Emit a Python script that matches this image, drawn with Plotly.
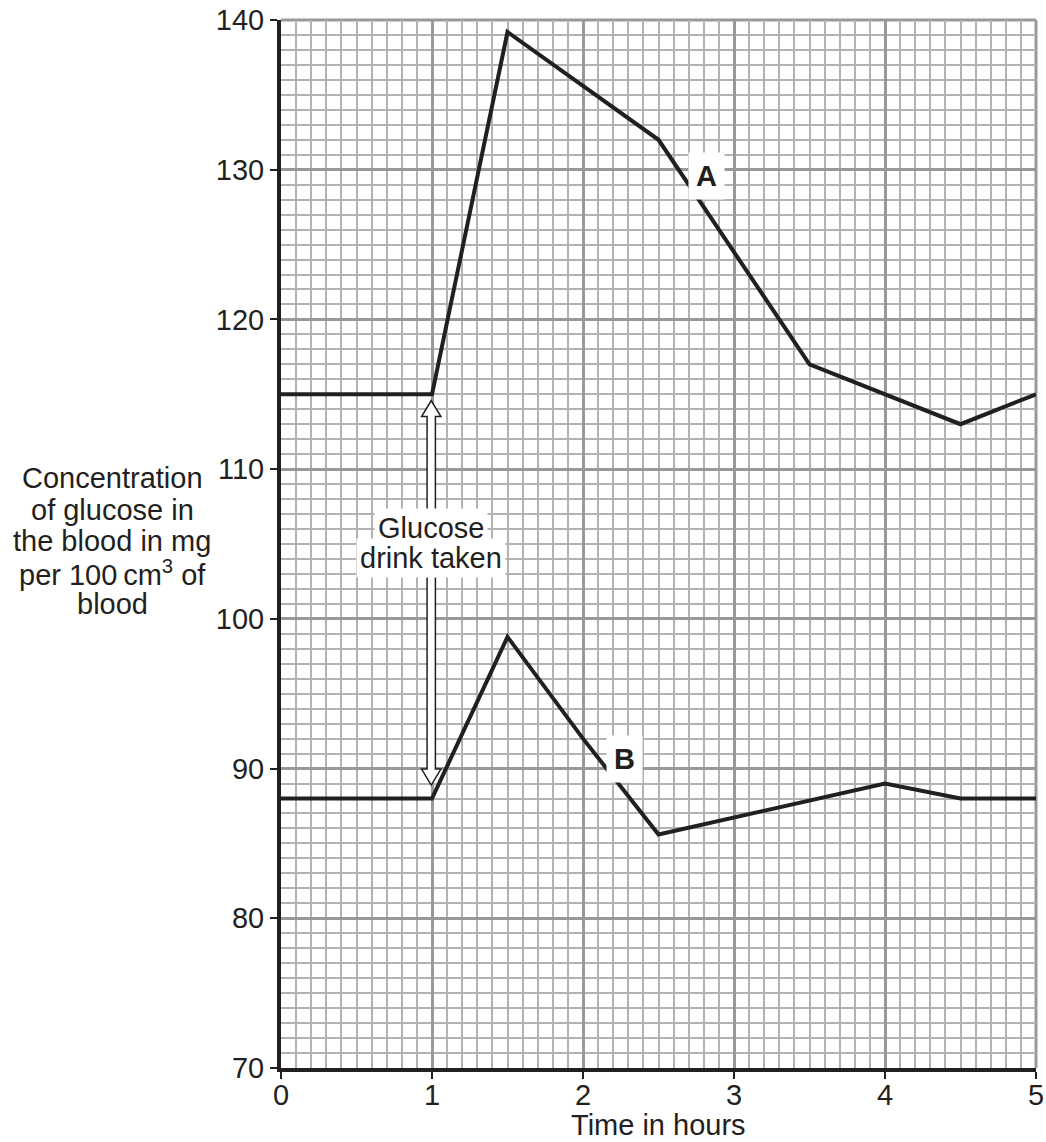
import plotly.graph_objects as go

# ---- data ----
time_a = [0, 1, 1.5, 2.5, 3.5, 4.5, 5]
glucose_a = [115, 115, 139.2, 132, 117, 113, 115]
time_b = [0, 1, 1.5, 2, 2.5, 4, 4.5, 5]
glucose_b = [88, 88, 98.8, 92, 85.6, 89, 88, 88]
x_ticks = [0, 1, 2, 3, 4, 5]
y_ticks = [70, 80, 90, 100, 110, 120, 130, 140]

INK = "#231f20"
FONT = "Liberation Sans"
FS = 29
MAJOR = "#999999"
MINOR = "#b2b2b2"

fig = go.Figure()
for xs, ys in [(time_a, glucose_a), (time_b, glucose_b)]:
    fig.add_trace(go.Scatter(x=xs, y=ys, mode="lines",
                             line=dict(color=INK, width=4), showlegend=False,
                             hoverinfo="skip"))

# hollow double-headed arrow ("Glucose drink taken")
ax_c, a_top, a_bot = 0.995, 114.58, 88.9
hw, sw, hl = 0.064, 0.0275, 1.07
p = [(ax_c, a_top), (ax_c + hw, a_top - hl), (ax_c + sw, a_top - hl),
     (ax_c + sw, a_bot + hl), (ax_c + hw, a_bot + hl), (ax_c, a_bot),
     (ax_c - hw, a_bot + hl), (ax_c - sw, a_bot + hl), (ax_c - sw, a_top - hl),
     (ax_c - hw, a_top - hl)]
path = "M " + " L ".join(f"{x},{y}" for x, y in p) + " Z"
fig.add_shape(type="path", path=path, xref="x", yref="y",
              fillcolor="white", line=dict(color=INK, width=1.5), layer="above")

# borders at top and right (gray, like major grid)
fig.add_shape(type="line", xref="paper", yref="paper", x0=0, x1=1, y0=1, y1=1,
              line=dict(color=MAJOR, width=3), layer="below")
fig.add_shape(type="line", xref="paper", yref="paper", x0=1, x1=1, y0=0, y1=1,
              line=dict(color=MAJOR, width=3), layer="below")

ann = []
ann.append(dict(x=ax_c, y=106.05, text="Glucose", showarrow=False,
                font=dict(family=FONT, size=FS, color=INK),
                bgcolor="white", borderpad=3, xanchor="center", yanchor="middle"))
ann.append(dict(x=ax_c, y=104.05, text="drink taken", showarrow=False,
                font=dict(family=FONT, size=FS, color=INK),
                bgcolor="white", borderpad=3, xanchor="center", yanchor="middle"))
ann.append(dict(x=2.819, y=129.55, text="<b>A</b>", showarrow=False,
                font=dict(family=FONT, size=FS, color=INK),
                bgcolor="white", borderpad=7, xanchor="center", yanchor="middle"))
ann.append(dict(x=2.275, y=90.67, text="<b>B</b>", showarrow=False,
                font=dict(family=FONT, size=FS, color=INK),
                bgcolor="white", borderpad=7, xanchor="center", yanchor="middle"))

ytitle = ["Concentration", "of glucose in", "the blood in mg",
          "per 100\u2009cm<sup>3</sup> of", "blood"]
for i, line in enumerate(ytitle):
    ann.append(dict(xref="paper", yref="paper", x=-0.2238,
                    y=(1068 - (478 + 31.5 * i)) / 1048, text=line,
                    showarrow=False, xanchor="center", yanchor="middle",
                    font=dict(family=FONT, size=FS, color=INK)))
ann.append(dict(xref="paper", yref="paper", x=0.5, y=(1068 - 1142) / 1048,
                text="Time in hours", showarrow=False, xanchor="center",
                yanchor="bottom", borderpad=0,
                font=dict(family=FONT, size=FS, color=INK)))

axis_common = dict(ticks="outside", ticklen=7, tickwidth=1.5, tickcolor=INK,
                   showline=True, linecolor=INK, linewidth=4, zeroline=False,
                   showgrid=True, gridcolor=MAJOR, gridwidth=3,
                   tickfont=dict(family=FONT, size=FS, color=INK),
                   automargin=False)

fig.update_layout(
    width=1046, height=1142,
    margin=dict(l=281, r=10, t=20, b=74, autoexpand=False),
    plot_bgcolor="white", paper_bgcolor="white",
    font=dict(family=FONT, size=FS, color=INK),
    annotations=ann,
    xaxis=dict(range=[0, 5], tickvals=x_ticks, ticklabelstandoff=-9,
               **axis_common,
               minor=dict(dtick=0.1, showgrid=True, gridcolor=MINOR,
                          gridwidth=1.5)),
    yaxis=dict(range=[70, 140], tickvals=y_ticks, **axis_common,
               minor=dict(dtick=1, showgrid=True, gridcolor=MINOR,
                          gridwidth=1.5)),
)

fig.write_html("out.html", config={"displayModeBar": False},
               post_script="document.body.style.margin='0';"
                           "document.body.style.overflow='hidden';")
